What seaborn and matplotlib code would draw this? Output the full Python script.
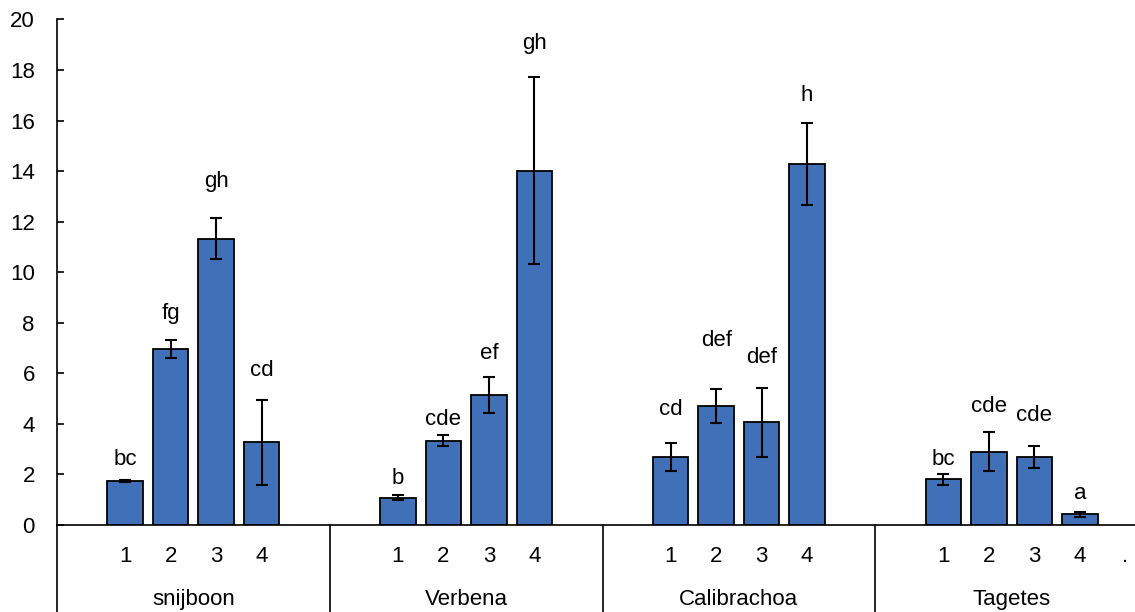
import matplotlib
matplotlib.use("Agg")
import matplotlib.pyplot as plt
import matplotlib.transforms as mtransforms
import seaborn as sns
import pandas as pd

# ---- data ----
groups = ["snijboon", "Verbena", "Calibrachoa", "Tagetes"]
treatments = ["1", "2", "3", "4"]
means = {
    "snijboon":    [1.74, 6.96, 11.33, 3.27],
    "Verbena":     [1.08, 3.33, 5.15, 14.01],
    "Calibrachoa": [2.69, 4.71, 4.07, 14.29],
    "Tagetes":     [1.81, 2.89, 2.68, 0.42],
}
errors = {
    "snijboon":    [0.05, 0.35, 0.82, 1.67],
    "Verbena":     [0.11, 0.22, 0.71, 3.70],
    "Calibrachoa": [0.54, 0.68, 1.37, 1.62],
    "Tagetes":     [0.22, 0.77, 0.43, 0.11],
}
letters = {
    "snijboon":    ["bc", "fg", "gh", "cd"],
    "Verbena":     ["b", "cde", "ef", "gh"],
    "Calibrachoa": ["cd", "def", "def", "h"],
    "Tagetes":     ["bc", "cde", "cde", "a"],
}
# baseline heights of the significance letters (data units)
letter_y = {
    "snijboon":    [2.38, 8.15, 13.37, 5.91],
    "Verbena":     [1.64, 3.95, 6.55, 18.85],
    "Calibrachoa": [4.37, 7.09, 6.42, 16.76],
    "Tagetes":     [2.37, 4.46, 4.12, 1.04],
}
yticks = [0, 2, 4, 6, 8, 10, 12, 14, 16, 18, 20]
trailing_label = "."

# ---- build table ----
rows = []
order = []
slot_labels = []
for g in groups:
    order.append(f"{g}|pre")
    slot_labels.append("")
    for i, t in enumerate(treatments):
        key = f"{g}|{t}"
        order.append(key)
        slot_labels.append(t)
        rows.append({"slot": key, "group": g, "treat": t,
                     "mean": means[g][i], "err": errors[g][i],
                     "letter": letters[g][i], "ly": letter_y[g][i]})
    order.append(f"{g}|post")
    slot_labels.append("")
slot_labels[-1] = trailing_label
df = pd.DataFrame(rows)

# ---- figure ----
sns.set_theme(style="white")
plt.rcParams["font.family"] = ["Liberation Sans", "DejaVu Sans"]
plt.rcParams["text.color"] = "black"
plt.rcParams["ytick.color"] = "black"
plt.rcParams["ytick.labelcolor"] = "black"
FS = 16
fig = plt.figure(figsize=(11.35, 6.12), dpi=100)
W, H = 1135, 612
slot_px = 45.46
left_px, zero_px, top_px = 57, 525, 19.5
ax = fig.add_axes([left_px / W, 1 - zero_px / H,
                   slot_px * len(order) / W, (zero_px - top_px) / H])

sns.barplot(data=df, x="slot", y="mean", order=order, ax=ax,
            color="#4070B8", saturation=1, errorbar=None,
            width=0.78, edgecolor="black", linewidth=1.3)

xpos = [order.index(s) for s in df["slot"]]
ax.errorbar(xpos, df["mean"], yerr=df["err"], fmt="none",
            ecolor="black", elinewidth=1.5, capsize=4, capthick=1.5, zorder=5)

for x, (_, r) in zip(xpos, df.iterrows()):
    ax.text(x, r["ly"], r["letter"], ha="center", va="baseline",
            fontsize=FS, color="black")

ax.set_xlim(-0.5, len(order) - 0.5)
ax.set_ylim(0, 20)
ax.set_yticks(yticks)
ax.set_yticklabels([str(v) for v in yticks])
ax.tick_params(axis="y", direction="in", length=5, width=1.2, pad=16,
               labelsize=FS, left=True, colors="black")
ax.set_xticks([])
ax.set_xlabel("")
ax.set_ylabel("")
for s in ["top", "right"]:
    ax.spines[s].set_visible(False)
for s in ["left", "bottom"]:
    ax.spines[s].set_color("black")
    ax.spines[s].set_linewidth(1.2)

# hierarchical category labels
trans = mtransforms.blended_transform_factory(ax.transData, ax.transAxes)
axh = zero_px - top_px
for i, lab in enumerate(slot_labels):
    if lab:
        ax.text(i, -(561.6 - zero_px) / axh, lab, transform=trans,
                ha="center", va="baseline", fontsize=FS, color="black")
n_per = len(treatments) + 2
for gi, g in enumerate(groups):
    center = gi * n_per + (n_per - 1) / 2
    ax.text(center, -(605 - zero_px) / axh, g, transform=trans,
            ha="center", va="baseline", fontsize=FS, color="black")
    xb = gi * n_per - 0.5
    ax.plot([xb, xb], [0, -0.25], transform=trans, color="black",
            lw=1.2, clip_on=False)

fig.savefig("out.png", dpi=100)
